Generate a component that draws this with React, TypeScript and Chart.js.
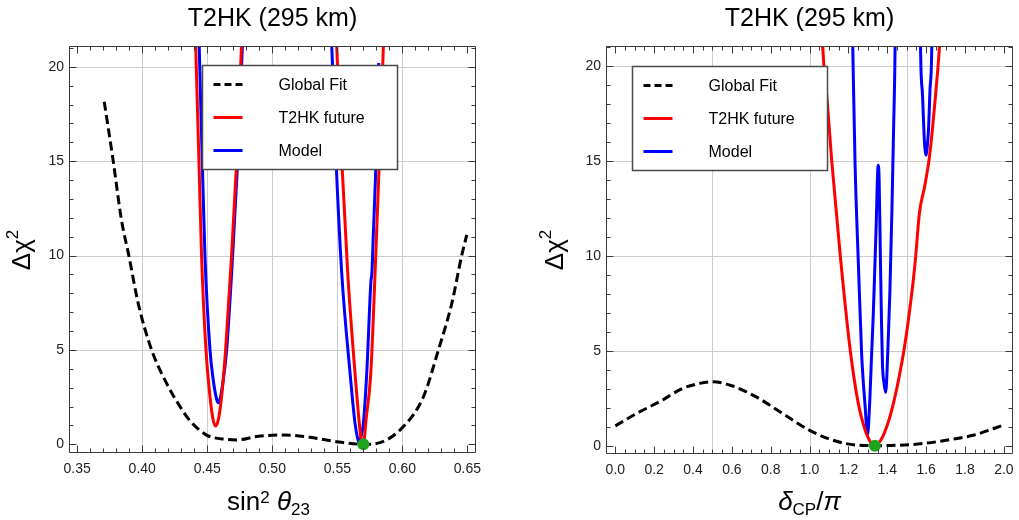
import React, { useEffect, useRef } from "react";
import { Chart, registerables } from "chart.js";

Chart.register(...registerables);

const FONT = '"Liberation Sans", Arial, Helvetica, sans-serif';

// ---------------- shared text / ticks ----------------
const panelTitle = "T2HK (295 km)";
const legendLabels = ["Global Fit", "T2HK future", "Model"];
const chiTicks = [0, 5, 10, 15, 20];
const chiGrid = [5, 10, 15, 20];

// ---------------- left panel: sin^2 theta_23 ----------------
const th23Ticks = [0.35, 0.4, 0.45, 0.5, 0.55, 0.6, 0.65];
const th23Grid = [0.4, 0.45, 0.5, 0.55, 0.6];

const th23GlobalX = [0.3708, 0.3777, 0.3840, 0.3897, 0.3969, 0.4072, 0.4174, 0.4290, 0.4367, 0.4495, 0.4649, 0.4726, 0.4880, 0.5085, 0.5290, 0.5495, 0.5700, 0.5828, 0.6008, 0.6162, 0.6277, 0.6380, 0.6456, 0.6495];
const th23GlobalY = [18.15, 15.0, 11.9, 10.0, 7.47, 5.0, 3.41, 2.0, 1.25, 0.49, 0.26, 0.23, 0.41, 0.50, 0.37, 0.14, 0.0, 0.09, 0.94, 2.52, 5.0, 7.47, 10.0, 11.09];

const th23T2hkAX = [0.4403, 0.4411, 0.4436, 0.4456, 0.4490, 0.4521, 0.4545, 0.4564, 0.4585, 0.4610, 0.4641, 0.4687, 0.4726, 0.4763, 0.4775];
const th23T2hkAY = [23.0, 21.1, 15.0, 10.0, 5.0, 2.52, 1.3, 0.97, 1.3, 2.52, 5.0, 10.0, 15.0, 21.1, 23.0];
const th23T2hkBX = [0.5486, 0.5495, 0.5534, 0.5580, 0.5636, 0.5669, 0.5682, 0.5695, 0.5708, 0.5718, 0.5757, 0.5790, 0.5823, 0.5854, 0.5861];
const th23T2hkBY = [22.5, 21.1, 15.04, 9.05, 3.76, 1.11, 0.3, 0.0, 0.3, 1.11, 3.76, 9.05, 15.04, 21.1, 22.5];

const th23ModelAX = [0.4430, 0.4438, 0.4462, 0.4482, 0.4521, 0.4546, 0.4570, 0.4585, 0.4600, 0.4623, 0.4649, 0.4695, 0.4733, 0.4770, 0.4778];
const th23ModelAY = [23.0, 21.1, 14.88, 10.0, 5.0, 3.41, 2.45, 2.2, 2.45, 3.41, 5.0, 10.0, 14.88, 21.1, 23.0];
const th23ModelBX = [0.5445, 0.5457, 0.5490, 0.5534, 0.5598, 0.5636, 0.5655, 0.5667, 0.5680, 0.5700, 0.5726, 0.5758, 0.5766, 0.5777, 0.5798, 0.5818];
const th23ModelBY = [22.5, 21.1, 15.04, 9.05, 3.76, 1.11, 0.35, 0.1, 0.35, 1.11, 3.76, 8.6, 9.1, 11.2, 15.04, 20.2];

const th23BestX = [0.570];
const th23BestY = [0.0];

// ---------------- right panel: delta_CP / pi ----------------
const dcpTicks = [0.0, 0.2, 0.4, 0.6, 0.8, 1.0, 1.2, 1.4, 1.6, 1.8, 2.0];
const dcpGrid = [0.5, 1.0, 1.5];

const dcpGlobalX = [0.0, 0.11, 0.229, 0.348, 0.434, 0.502, 0.604, 0.723, 0.86, 0.996, 1.115, 1.251, 1.336, 1.456, 1.592, 1.711, 1.847, 2.0];
const dcpGlobalY = [1.04, 1.70, 2.32, 3.02, 3.28, 3.37, 3.14, 2.58, 1.70, 0.83, 0.30, 0.02, 0.0, 0.02, 0.12, 0.30, 0.56, 1.09];

const dcpT2hkX = [1.062, 1.067, 1.089, 1.115, 1.158, 1.209, 1.251, 1.280, 1.303, 1.322, 1.336, 1.352, 1.378, 1.421, 1.477, 1.507, 1.541, 1.566, 1.592, 1.617, 1.643, 1.669, 1.674];
const dcpT2hkY = [22.5, 21.07, 18.38, 14.87, 10.0, 5.04, 2.2, 1.0, 0.38, 0.07, 0.0, 0.1, 0.5, 1.8, 4.5, 6.5, 9.4, 12.3, 13.64, 15.22, 17.86, 21.07, 22.0];

const dcpModelAX = [1.219, 1.222, 1.234, 1.251, 1.268, 1.286, 1.298, 1.310, 1.318, 1.328, 1.342, 1.353, 1.358, 1.364, 1.370, 1.375, 1.383, 1.392, 1.402, 1.413, 1.424, 1.432, 1.440, 1.441];
const dcpModelAY = [22.5, 21.07, 14.87, 9.6, 4.8, 2.05, 0.56, 2.4, 4.51, 6.97, 11.36, 14.77, 14.0, 10.2, 6.6, 4.3, 3.3, 2.8, 4.8, 8.0, 12.5, 16.5, 21.07, 22.5];
const dcpModelBX = [1.570, 1.571, 1.581, 1.5915, 1.597, 1.600, 1.605, 1.612, 1.620, 1.629, 1.630];
const dcpModelBY = [22.5, 21.07, 18.5, 15.93, 15.4, 15.3, 15.7, 16.63, 18.8, 21.07, 22.5];

const dcpBestX = [1.336];
const dcpBestY = [0.0];

// ---------------- helpers ----------------
type Part = { t: string; size: number; italic?: boolean; dy?: number };

const zip = (xs: number[], ys: number[]) => xs.map((x, i) => ({ x, y: ys[i] }));

const RED = "rgb(255,0,0)";
const BLUE = "rgb(0,0,255)";
const BLACK = "#000000";
const GREEN = "#1fa31f";
const DASH = [9, 4.5];
const LW = 3;

function lineDs(xs: number[], ys: number[], color: string, order: number, dash?: number[]) {
  return {
    data: zip(xs, ys),
    showLine: true,
    borderColor: color,
    backgroundColor: color,
    borderWidth: LW,
    borderDash: dash || [],
    pointRadius: 0,
    pointHoverRadius: 0,
    cubicInterpolationMode: "monotone",
    capBezierPoints: false,
    fill: false,
    clip: 0,
    order,
  };
}

function pointDs(xs: number[], ys: number[]) {
  return {
    data: zip(xs, ys),
    showLine: false,
    pointRadius: 6,
    pointHoverRadius: 6,
    pointBackgroundColor: GREEN,
    pointBorderColor: GREEN,
    pointBorderWidth: 0,
    clip: false,
    order: 0,
  };
}

function drawParts(ctx: CanvasRenderingContext2D, parts: Part[], cx: number, baseline: number) {
  const fontOf = (p: Part) => `${p.italic ? "italic " : ""}${p.size}px ${FONT}`;
  let total = 0;
  const widths = parts.map((p) => {
    ctx.font = fontOf(p);
    const w = ctx.measureText(p.t).width;
    total += w;
    return w;
  });
  let x = cx - total / 2;
  ctx.textAlign = "left";
  ctx.textBaseline = "alphabetic";
  parts.forEach((p, i) => {
    ctx.font = fontOf(p);
    ctx.fillText(p.t, x, baseline + (p.dy || 0));
    x += widths[i];
  });
}

type Spec = {
  key: string;
  width: number;
  xMin: number;
  xMax: number;
  yMin: number;
  yMax: number;
  xTicks: number[];
  xDecimals: number;
  xGrid: number[];
  xMinorStep: number;
  padTop: number;
  padRight: number;
  xAxisH: number;
  yAxisW: number;
  legendDX: number;
  legendDY: number;
  xTitle: Part[];
  xTitleDX: number;
  yTitleX: number;
  datasets: any[];
};

const yTitleParts: Part[] = [
  { t: "Δ", size: 26 },
  { t: "χ", size: 26 },
  { t: "2", size: 17, dy: -12 },
];

function panelPlugin(s: Spec) {
  return {
    id: "panel_" + s.key,
    beforeDatasetsDraw(chart: any) {
      const { ctx, chartArea: a, scales } = chart;
      ctx.save();
      ctx.strokeStyle = "#cdcdcd";
      ctx.lineWidth = 1;
      ctx.beginPath();
      s.xGrid.forEach((v) => {
        const px = Math.round(scales.x.getPixelForValue(v)) + 0.5;
        ctx.moveTo(px, a.top);
        ctx.lineTo(px, a.bottom);
      });
      chiGrid.forEach((v) => {
        const py = Math.round(scales.y.getPixelForValue(v)) + 0.5;
        ctx.moveTo(a.left, py);
        ctx.lineTo(a.right, py);
      });
      ctx.stroke();
      ctx.restore();
    },
    afterDatasetsDraw(chart: any) {
      const { ctx, chartArea: a, scales } = chart;
      ctx.save();
      ctx.strokeStyle = "#3a3a3a";
      ctx.lineWidth = 1;
      const L = Math.round(a.left) + 0.5;
      const R = Math.round(a.right) - 0.5;
      const T = Math.round(a.top) + 0.5;
      const B = Math.round(a.bottom) - 0.5;
      ctx.beginPath();
      ctx.rect(L, T, R - L, B - T);
      // x ticks (bottom & top)
      const xMajorSet = s.xTicks.map((v) => v.toFixed(4));
      const n0 = Math.ceil(s.xMin / s.xMinorStep - 1e-6);
      const n1 = Math.floor(s.xMax / s.xMinorStep + 1e-6);
      for (let n = n0; n <= n1; n++) {
        const v = n * s.xMinorStep;
        const major = xMajorSet.includes(v.toFixed(4));
        const len = major ? 7 : 4;
        const px = Math.round(scales.x.getPixelForValue(v)) + 0.5;
        ctx.moveTo(px, B);
        ctx.lineTo(px, B - len);
        ctx.moveTo(px, T);
        ctx.lineTo(px, T + len);
      }
      // y ticks (left & right)
      for (let v = Math.ceil(s.yMin); v <= Math.floor(s.yMax); v++) {
        const major = v % 5 === 0;
        const len = major ? 7 : 4;
        const py = Math.round(scales.y.getPixelForValue(v)) + 0.5;
        ctx.moveTo(L, py);
        ctx.lineTo(L + len, py);
        ctx.moveTo(R, py);
        ctx.lineTo(R - len, py);
      }
      ctx.stroke();

      // legend
      const bx = Math.round(a.left + s.legendDX) + 0.5;
      const by = Math.round(a.top + s.legendDY) + 0.5;
      const bw = 195;
      const bh = 104;
      ctx.fillStyle = "#ffffff";
      ctx.fillRect(bx, by, bw, bh);
      ctx.strokeStyle = "#4a4a4a";
      ctx.lineWidth = 1.5;
      ctx.strokeRect(bx, by, bw, bh);
      const colors = [BLACK, RED, BLUE];
      const rows = [19, 52, 85];
      rows.forEach((dy, i) => {
        ctx.beginPath();
        ctx.strokeStyle = colors[i];
        ctx.lineWidth = LW;
        ctx.setLineDash(i === 0 ? [7, 4] : []);
        ctx.moveTo(bx + 11, by + dy);
        ctx.lineTo(bx + 40, by + dy);
        ctx.stroke();
        ctx.setLineDash([]);
        ctx.fillStyle = "#000";
        ctx.font = `16px ${FONT}`;
        ctx.textAlign = "left";
        ctx.textBaseline = "middle";
        ctx.fillText(legendLabels[i], bx + 76, by + dy + 1);
      });
      ctx.restore();
    },
    afterDraw(chart: any) {
      const { ctx, chartArea: a } = chart;
      ctx.save();
      ctx.fillStyle = "#000";
      const cx = (a.left + a.right) / 2;
      // title
      ctx.font = `25px ${FONT}`;
      ctx.textAlign = "center";
      ctx.textBaseline = "alphabetic";
      ctx.fillText(panelTitle, cx, 26);
      // x title
      drawParts(ctx, s.xTitle, cx + s.xTitleDX, 510);
      // y title
      ctx.translate(s.yTitleX, 250);
      ctx.rotate(-Math.PI / 2);
      drawParts(ctx, yTitleParts, 0, 0);
      ctx.restore();
    },
  };
}

function makeConfig(s: Spec): any {
  return {
    type: "scatter",
    data: { datasets: s.datasets },
    options: {
      animation: false,
      responsive: false,
      maintainAspectRatio: false,
      events: [],
      layout: { padding: { left: 0, top: s.padTop, right: s.padRight, bottom: 0 } },
      plugins: {
        legend: { display: false },
        tooltip: { enabled: false },
        title: { display: false },
      },
      scales: {
        x: {
          type: "linear",
          position: "bottom",
          min: s.xMin,
          max: s.xMax,
          afterBuildTicks: (sc: any) => {
            sc.ticks = s.xTicks.map((v) => ({ value: v }));
          },
          afterFit: (sc: any) => {
            sc.height = s.xAxisH;
            sc.paddingLeft = 0;
            sc.paddingRight = 0;
          },
          grid: { display: false, drawTicks: false },
          border: { display: false },
          ticks: {
            autoSkip: false,
            maxRotation: 0,
            minRotation: 0,
            padding: 8,
            color: "#222",
            font: { family: FONT, size: 14 },
            callback: (v: number) => Number(v).toFixed(s.xDecimals),
          },
        },
        y: {
          type: "linear",
          position: "left",
          min: s.yMin,
          max: s.yMax,
          afterBuildTicks: (sc: any) => {
            sc.ticks = chiTicks.map((v) => ({ value: v }));
          },
          afterFit: (sc: any) => {
            sc.width = s.yAxisW;
            sc.paddingTop = 0;
            sc.paddingBottom = 0;
          },
          grid: { display: false, drawTicks: false },
          border: { display: false },
          ticks: {
            autoSkip: false,
            padding: 5,
            color: "#222",
            font: { family: FONT, size: 14 },
            callback: (v: number) => String(Math.round(Number(v))),
          },
        },
      },
    },
    plugins: [panelPlugin(s)],
  };
}

const leftSpec: Spec = {
  key: "th23",
  width: 510,
  xMin: 0.3437,
  xMax: 0.6566,
  yMin: -0.46,
  yMax: 21.1,
  xTicks: th23Ticks,
  xDecimals: 2,
  xGrid: th23Grid,
  xMinorStep: 0.01,
  padTop: 46,
  padRight: 34,
  xAxisH: 67,
  yAxisW: 69,
  legendDX: 133,
  legendDY: 19,
  xTitle: [
    { t: "sin", size: 26 },
    { t: "2", size: 17, dy: -7 },
    { t: " ", size: 26 },
    { t: "θ", size: 26, italic: true },
    { t: "23", size: 17, dy: 5 },
  ],
  xTitleDX: -4,
  yTitleX: 30,
  datasets: [
    pointDs(th23BestX, th23BestY),
    lineDs(th23T2hkAX, th23T2hkAY, RED, 1),
    lineDs(th23T2hkBX, th23T2hkBY, RED, 1),
    lineDs(th23ModelAX, th23ModelAY, BLUE, 2),
    lineDs(th23ModelBX, th23ModelBY, BLUE, 2),
    lineDs(th23GlobalX, th23GlobalY, BLACK, 3, DASH),
  ],
};

const rightSpec: Spec = {
  key: "dcp",
  width: 509,
  xMin: -0.048,
  xMax: 2.047,
  yMin: -0.44,
  yMax: 21.05,
  xTicks: dcpTicks,
  xDecimals: 1,
  xGrid: dcpGrid,
  xMinorStep: 0.05,
  padTop: 46,
  padRight: 3,
  xAxisH: 66,
  yAxisW: 96,
  legendDX: 26,
  legendDY: 20,
  xTitle: [
    { t: "δ", size: 26, italic: true },
    { t: "CP", size: 17, dy: 5 },
    { t: "/", size: 26 },
    { t: "π", size: 26, italic: true },
  ],
  xTitleDX: 0,
  yTitleX: 53,
  datasets: [
    pointDs(dcpBestX, dcpBestY),
    lineDs(dcpT2hkX, dcpT2hkY, RED, 1),
    lineDs(dcpModelAX, dcpModelAY, BLUE, 2),
    lineDs(dcpModelBX, dcpModelBY, BLUE, 2),
    lineDs(dcpGlobalX, dcpGlobalY, BLACK, 3, DASH),
  ],
};

function Panel({ spec, left }: { spec: Spec; left: number }) {
  const ref = useRef<HTMLCanvasElement | null>(null);
  useEffect(() => {
    if (!ref.current) return;
    const chart = new Chart(ref.current, makeConfig(spec));
    return () => chart.destroy();
  }, [spec]);
  return (
    <canvas
      ref={ref}
      width={spec.width}
      height={520}
      style={{ position: "absolute", left, top: 0, width: spec.width, height: 520, display: "block" }}
    />
  );
}

export default function App() {
  return (
    <div style={{ position: "absolute", left: 0, top: 0, width: 1019, height: 520, background: "#fff" }}>
      <Panel spec={leftSpec} left={0} />
      <Panel spec={rightSpec} left={510} />
    </div>
  );
}
